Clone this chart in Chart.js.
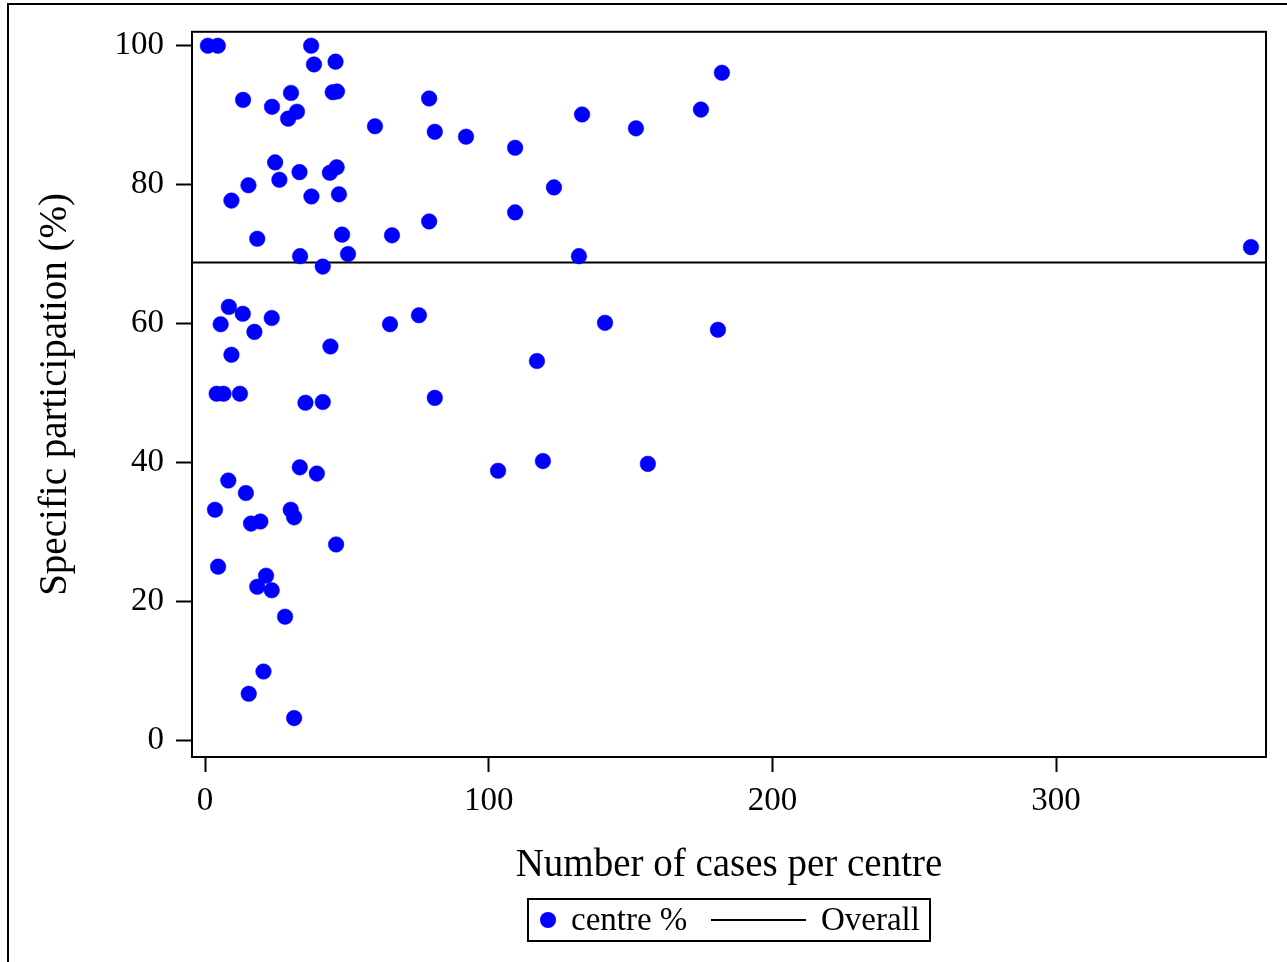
<!DOCTYPE html>
<html>
<head>
<meta charset="utf-8">
<title>Specific participation by centre</title>
<script src="https://cdn.jsdelivr.net/npm/chart.js@4.4.0/dist/chart.umd.min.js"></script>
<style>
    html, body { margin: 0; padding: 0; background: #ffffff; }
    #wrap { width: 1287px; height: 962px; }
</style>
</head>
<body>
<div id="wrap"><canvas id="ScatterChart_centres" width="1287" height="962"></canvas></div>
<script>
// число случаев в центре
let centre_cases = [
    1, 4.5, 37.4, 46, 38.4, 182.2, 13.4, 30.3, 45, 46.5,
    23.6, 32.4, 29.3, 79, 132.9, 174.8, 59.9, 81, 92, 151.9,
    109.3, 24.7, 46.4, 44, 33.3, 26.2, 15.3, 9.3, 37.5, 47.2,
    123, 79, 109.3, 18.4, 48.3, 65.9, 33.5, 50.4, 41.5, 131.8,
    368.7, 8.4, 13.3, 5.5, 17.4, 23.5, 9.3, 4.1, 6.5, 12.3,
    35.4, 41.5, 44.2, 33.4, 39.4, 8.2, 14.4, 65.2, 75.4, 141,
    180.8, 117, 81, 103.3, 119.1, 156.1, 3.5, 16.2, 19.5, 30.2,
    31.4, 46.2, 4.6, 21.5, 18.4, 23.5, 28.2, 20.6, 15.4, 31.4
];
// участие по центру, %
let centre_pct = [
    100, 100, 100, 97.7, 97.3, 96.1, 92.2, 93.2, 93.3, 93.4,
    91.2, 90.5, 89.5, 92.4, 90.1, 90.8, 88.4, 87.6, 86.9, 88.1,
    85.3, 83.2, 82.5, 81.7, 81.8, 80.7, 79.9, 77.7, 78.3, 78.6,
    79.6, 74.7, 76, 72.2, 72.8, 72.7, 69.7, 70, 68.2, 69.7,
    71, 62.4, 61.4, 59.9, 58.8, 60.8, 55.5, 49.9, 49.9, 49.9,
    48.6, 48.7, 56.7, 39.3, 38.4, 37.4, 35.6, 59.9, 61.2, 60.1,
    59.1, 54.6, 49.3, 38.8, 40.2, 39.8, 33.2, 31.2, 31.5, 33.2,
    32.1, 28.2, 25, 23.7, 22.1, 21.6, 17.8, 9.9, 6.7, 3.2
];
let overall_pct = 68.8;

let x_ticks = [0, 100, 200, 300];
let y_ticks = [0, 20, 40, 60, 80, 100];
let x_min = -4.6, x_max = 374;
let y_min = -2.4, y_max = 102;

let label_centre = "centre %";
let label_overall = "Overall";
let color_centre = "#0000FF";
let font_family = "'Liberation Serif', 'Times New Roman', serif";

// рамка графика, внешняя рамка и легенда в рамке
const frameLegendPlugin = {
    id: 'frameLegend',
    afterDraw(chart) {
        const ctx = chart.ctx;
        const a = chart.chartArea;
        ctx.save();
        ctx.strokeStyle = '#000000';
        ctx.lineWidth = 2;
        ctx.strokeRect(a.left, a.top, a.right - a.left, a.bottom - a.top);

        ctx.beginPath();
        ctx.moveTo(8, 962);
        ctx.lineTo(8, 4);
        ctx.lineTo(1287, 4);
        ctx.stroke();

        // легенда
        ctx.strokeRect(528, 899, 402, 42);
        ctx.fillStyle = color_centre;
        ctx.beginPath();
        ctx.arc(548, 920, 8, 0, Math.PI * 2);
        ctx.fill();
        ctx.beginPath();
        ctx.moveTo(711, 920);
        ctx.lineTo(806, 920);
        ctx.stroke();
        ctx.fillStyle = '#000000';
        ctx.font = "33px " + font_family;
        ctx.textBaseline = 'middle';
        ctx.textAlign = 'left';
        ctx.fillText(label_centre, 571, 921);
        ctx.fillText(label_overall, 821, 921);
        ctx.restore();
    }
};

function ScatterChart_centres() {
    const points = centre_cases.map((x, i) => ({ x: x, y: centre_pct[i] }));
    const overall = [{ x: x_min, y: overall_pct }, { x: x_max, y: overall_pct }];

    const ctx = document.getElementById('ScatterChart_centres').getContext('2d');
    new Chart(ctx, {
        type: 'scatter',
        data: {
            datasets: [{
                label: label_centre,
                data: points,
                pointRadius: 7.8,
                pointHoverRadius: 7.8,
                pointBackgroundColor: color_centre,
                pointBorderColor: color_centre,
                pointBorderWidth: 0.5
            }, {
                label: label_overall,
                data: overall,
                showLine: true,
                borderColor: '#000000',
                borderWidth: 2,
                pointRadius: 0,
                pointHoverRadius: 0
            }]
        },
        options: {
            responsive: false,
            animation: false,
            layout: { padding: { left: 0, top: 30, right: 21, bottom: 65 } },
            plugins: {
                legend: { display: false },
                tooltip: { enabled: false }
            },
            scales: {
                x: {
                    type: 'linear',
                    min: x_min,
                    max: x_max,
                    afterFit: function (scale) { scale.height = 140; },
                    afterBuildTicks: function (scale) { scale.ticks = x_ticks.map(v => ({ value: v })); },
                    grid: { drawOnChartArea: false, tickLength: 15, tickColor: '#000000', tickWidth: 2 },
                    border: { display: false },
                    ticks: { color: '#000000', padding: 10, font: { family: font_family, size: 33 } },
                    title: {
                        display: true,
                        text: 'Number of cases per centre',
                        color: '#000000',
                        padding: { top: 0, bottom: 8 },
                        font: { family: font_family, size: 39 }
                    }
                },
                y: {
                    type: 'linear',
                    min: y_min,
                    max: y_max,
                    afterFit: function (scale) { scale.width = 192; },
                    afterBuildTicks: function (scale) { scale.ticks = y_ticks.map(v => ({ value: v })); },
                    grid: { drawOnChartArea: false, tickLength: 16, tickColor: '#000000', tickWidth: 2 },
                    border: { display: false },
                    ticks: { color: '#000000', padding: 12, font: { family: font_family, size: 33 } },
                    title: {
                        display: true,
                        text: 'Specific participation (%)',
                        color: '#000000',
                        padding: { top: 32, bottom: 0 },
                        font: { family: font_family, size: 39 }
                    }
                }
            }
        },
        plugins: [frameLegendPlugin]
    });
}

ScatterChart_centres();
</script>
</body>
</html>
